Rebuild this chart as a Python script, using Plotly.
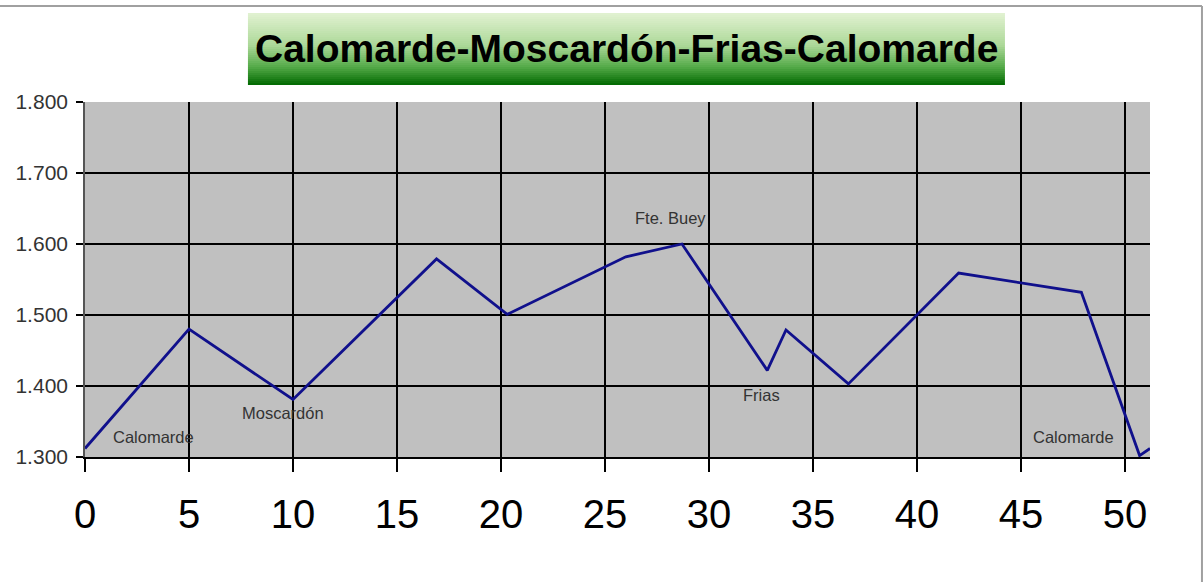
import plotly.graph_objects as go

# Profile data (km, altitude in m)
km = [0, 5.0, 10.0, 16.9, 20.3, 26.0, 28.7, 32.8, 33.7, 36.7, 42.0, 47.9, 50.7, 51.2]
alt = [1312, 1480, 1381, 1579, 1501, 1582, 1600, 1422, 1479, 1403, 1559, 1532, 1302, 1312]

# Place labels
label_text = ["Calomarde", "Moscardón", "Fte. Buey", "Frias", "Calomarde"]
label_km = [3.27, 9.52, 28.16, 32.5, 47.5]
label_alt = [1328, 1362, 1636, 1387, 1328]

x_ticks = [0, 5, 10, 15, 20, 25, 30, 35, 40, 45, 50]
y_ticks = [1300, 1400, 1500, 1600, 1700, 1800]
y_ticktext = ["1.300", "1.400", "1.500", "1.600", "1.700", "1.800"]

title_text = "Calomarde-Moscardón-Frias-Calomarde"

FONT = "Liberation Sans, Arial, sans-serif"

fig = go.Figure()
fig.add_trace(go.Scatter(
    x=km, y=alt, mode="lines",
    line=dict(color="#10108c", width=2.8),
    hoverinfo="x+y", showlegend=False,
))

for t, xk, ya in zip(label_text, label_km, label_alt):
    fig.add_annotation(x=xk, y=ya, text=t, showarrow=False,
                       font=dict(family=FONT, size=16.5, color="#333333"),
                       xanchor="center", yanchor="middle")

# Gradient title box built from thin stripes
def hex2rgb(h):
    h = h.lstrip("#")
    return tuple(int(h[i:i + 2], 16) for i in (0, 2, 4))

stops = [(0.0, "#e2f2d2"), (0.45, "#acd898"), (0.75, "#54aa48"), (1.0, "#006800")]

def color_at(t):
    for (t0, c0), (t1, c1) in zip(stops[:-1], stops[1:]):
        if t0 <= t <= t1:
            f = (t - t0) / (t1 - t0)
            a, b = hex2rgb(c0), hex2rgb(c1)
            return "rgb(%d,%d,%d)" % tuple(round(a[i] + (b[i] - a[i]) * f) for i in range(3))
    return stops[-1][1]

bx0, bx1 = 0.153, 0.8638
by_top, by_bot = 1.2507, 1.0479
n = 36
for i in range(n):
    ya = by_top - (by_top - by_bot) * i / n
    yb = by_top - (by_top - by_bot) * (i + 1) / n
    fig.add_shape(type="rect", xref="paper", yref="paper",
                  x0=bx0, x1=bx1, y0=yb, y1=ya,
                  fillcolor=color_at((i + 0.5) / n), line=dict(width=0), layer="above")

fig.add_annotation(xref="paper", yref="paper", x=(bx0 + bx1) / 2, y=(by_top + by_bot) / 2,
                   text="<b>" + title_text + "</b>", showarrow=False,
                   font=dict(family=FONT, size=39, color="#000000"),
                   xanchor="center", yanchor="middle")

# outer frame fragments (top and right)
fig.add_shape(type="line", xref="paper", yref="paper", x0=-0.09, x1=1.0488, y0=1.2704, y1=1.2704,
              line=dict(color="#a0a0a0", width=2))
fig.add_shape(type="line", xref="paper", yref="paper", x0=1.0488, x1=1.0488, y0=1.2704, y1=-0.36,
              line=dict(color="#a0a0a0", width=2))

fig.update_layout(
    width=1204, height=582,
    margin=dict(l=85, r=54, t=102, b=125),
    paper_bgcolor="white", plot_bgcolor="#c0c0c0",
    font=dict(family=FONT),
    xaxis=dict(range=[0, 51.2], tickvals=x_ticks, showgrid=True, gridcolor="#000000", gridwidth=1.6,
               zeroline=False, ticks="outside", ticklen=13, tickcolor="#000000", tickwidth=1.6,
               ticklabelstandoff=8, showline=True, linecolor="#000000", linewidth=1.6,
               tickfont=dict(family=FONT, size=40, color="#000000")),
    yaxis=dict(range=[1300, 1800], tickvals=y_ticks, ticktext=y_ticktext, showgrid=True,
               gridcolor="#000000", gridwidth=1.6, zeroline=False, ticks="outside", ticklen=7,
               tickcolor="#000000", tickwidth=1.6, ticklabelstandoff=4,
               showline=True, linecolor="#555555", linewidth=1.6,
               tickfont=dict(family=FONT, size=21, color="#333333")),
)

fig.write_html("out.html", config={"displayModeBar": False},
               post_script="document.body.style.margin='0';document.body.style.overflow='hidden';")
